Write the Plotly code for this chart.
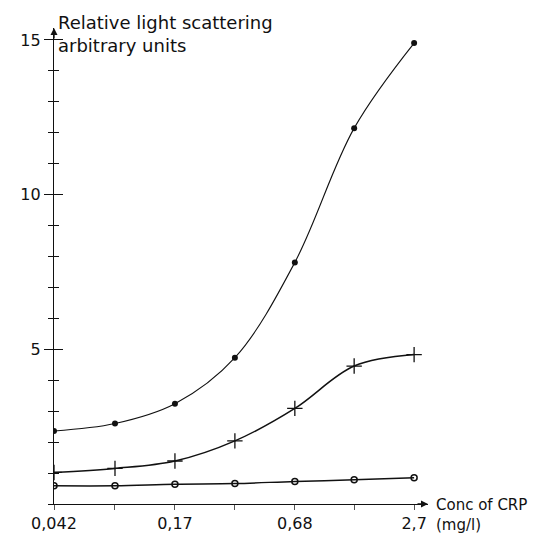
import plotly.graph_objects as go

conc = [0.042, 0.085, 0.17, 0.34, 0.68, 1.35, 2.7]
series_top = [2.36, 2.60, 3.24, 4.73, 7.81, 12.15, 14.90]
series_mid = [1.02, 1.15, 1.39, 2.04, 3.09, 4.46, 4.83]
series_low = [0.59, 0.59, 0.64, 0.66, 0.73, 0.78, 0.85]

x_tickvals = [0.042, 0.085, 0.17, 0.34, 0.68, 1.35, 2.7]
x_ticktext = ["0,042", "", "0,17", "", "0,68", "", "2,7"]

FONT = "DejaVu Sans"
INK = "#111111"

fig = go.Figure()
fig.add_trace(go.Scatter(x=conc, y=series_top, mode="lines+markers",
                         line=dict(shape="spline", smoothing=1.0, color=INK, width=1.1),
                         marker=dict(symbol="circle", size=6, color=INK)))
fig.add_trace(go.Scatter(x=conc, y=series_mid, mode="lines+markers",
                         line=dict(shape="spline", smoothing=1.0, color=INK, width=1.5),
                         marker=dict(symbol="cross-thin", size=11, line=dict(color=INK, width=1.3))))
fig.add_trace(go.Scatter(x=conc, y=series_low, mode="lines+markers",
                         line=dict(shape="spline", smoothing=1.0, color=INK, width=1.5),
                         marker=dict(symbol="circle-open", size=6, line=dict(color=INK, width=1.5))))
# invisible trace to activate the second y axis (inside ticks)
fig.add_trace(go.Scatter(x=[conc[0]], y=[series_low[0]], yaxis="y2", mode="markers",
                         marker=dict(opacity=0), hoverinfo="skip"))

yr = [0, 477 / 31.0]
fig.update_layout(
    width=547, height=537,
    margin=dict(l=43, r=127, t=20, b=40),
    paper_bgcolor="white", plot_bgcolor="white",
    showlegend=False,
    font=dict(family=FONT, size=15, color=INK),
    xaxis=dict(type="log", range=[-1.3768, 0.5011],
               tickvals=x_tickvals, ticktext=x_ticktext,
               ticks="outside", ticklen=5, tickcolor="#555555", tickwidth=1,
               showline=True, linecolor=INK, linewidth=1.4,
               showgrid=False, zeroline=False,
               tickfont=dict(family=FONT, size=16, color=INK)),
    yaxis=dict(range=yr, tickvals=[5, 10, 15], ticktext=["5", "10", "15"],
               ticks="outside", ticklen=9, tickwidth=1.3, tickcolor=INK,
               minor=dict(dtick=1, ticks="outside", ticklen=5, tickwidth=1.1, tickcolor=INK),
               showline=True, linecolor=INK, linewidth=1.4,
               showgrid=False, zeroline=False,
               tickfont=dict(family=FONT, size=16, color=INK)),
    yaxis2=dict(range=yr, overlaying="y", side="left", tickvals=[5, 10, 15],
                ticks="inside", ticklen=9, tickwidth=1.3, tickcolor=INK,
                minor=dict(dtick=1, ticks="inside", ticklen=5, tickwidth=1.1, tickcolor=INK),
                showticklabels=False, showline=False, showgrid=False, zeroline=False),
)

# axis arrows
fig.add_annotation(x=1, y=0, xref="paper", yref="paper", ax=-12, ay=0, text="",
                   showarrow=True, arrowhead=2, arrowsize=1, arrowwidth=1.4, arrowcolor=INK)
fig.add_annotation(x=0, y=1, xref="paper", yref="paper", ax=0, ay=12, text="",
                   showarrow=True, arrowhead=2, arrowsize=1, arrowwidth=1.4, arrowcolor=INK)

# axis titles
fig.add_annotation(x=0, y=1, xref="paper", yref="paper", xanchor="left", yanchor="top",
                   xshift=2, yshift=18, align="left", showarrow=False,
                   text="Relative light scattering<br>arbitrary units",
                   font=dict(family=FONT, size=18, color=INK))
fig.add_annotation(x=1, y=0, xref="paper", yref="paper", xanchor="left", yanchor="top",
                   xshift=6, yshift=10, align="left", showarrow=False,
                   text="Conc of CRP<br>(mg/l)",
                   font=dict(family=FONT, size=15, color=INK))

fig.write_html("out.html")
